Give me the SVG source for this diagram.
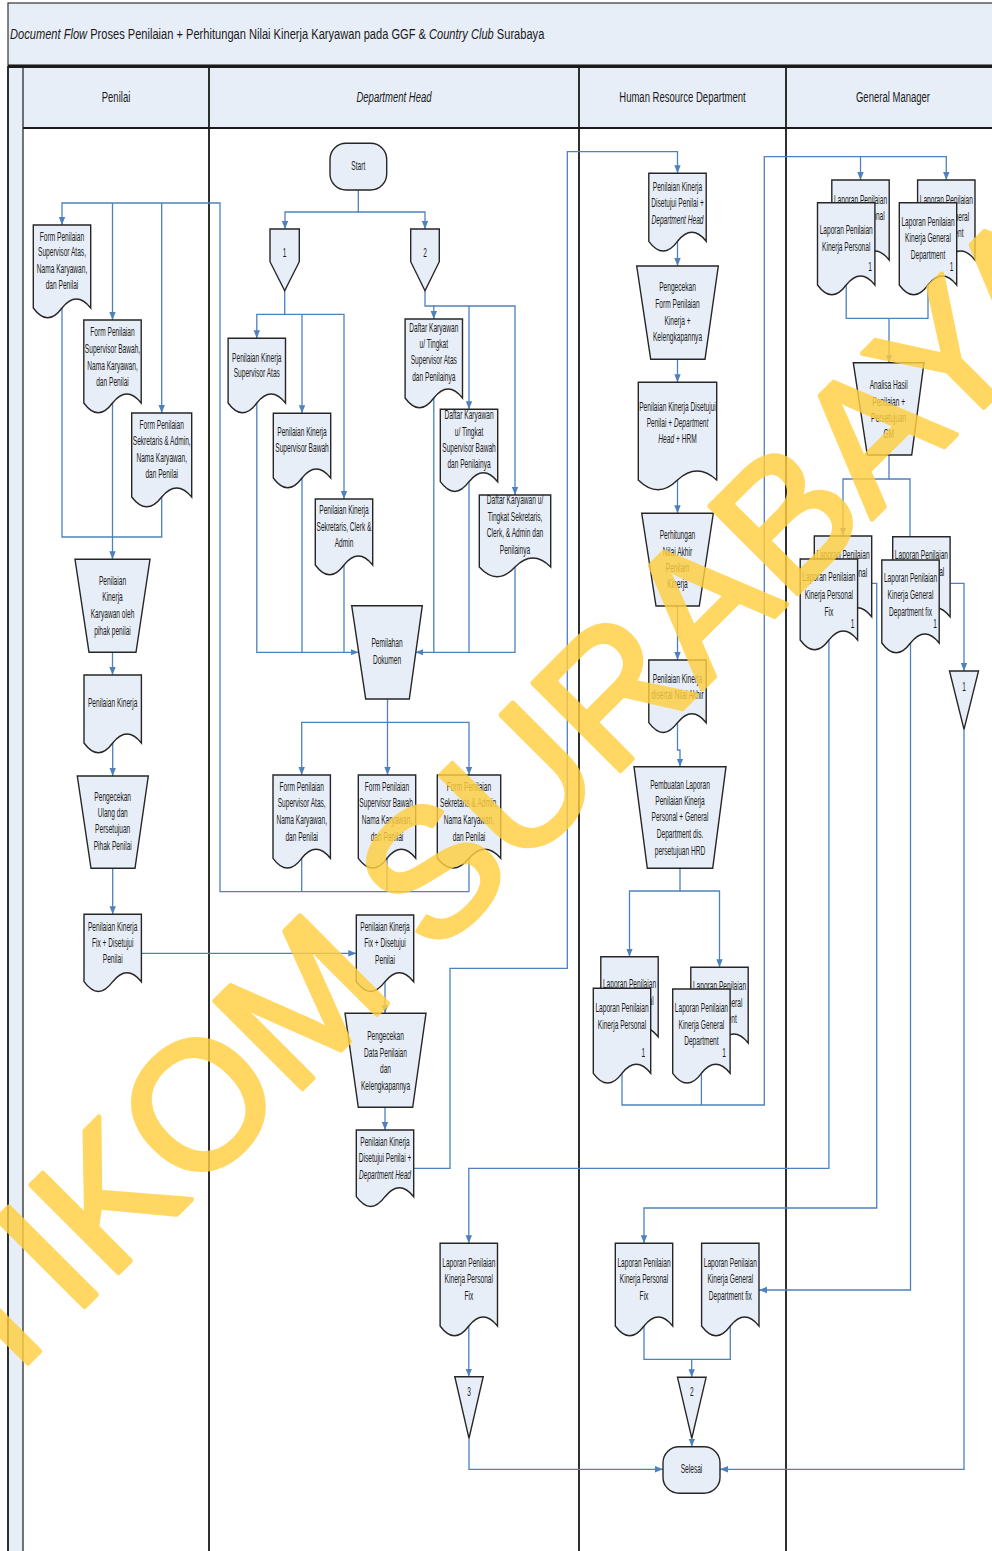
<svg xmlns="http://www.w3.org/2000/svg" width="992" height="1551" viewBox="0 0 992 1551">
<defs>
<style>
.n{fill:#E8EEF7;stroke:#262626;stroke-width:1.4}
.c{fill:none;stroke:#4F81BD;stroke-width:1.3}
.a{marker-end:url(#ar)}
.t{font-family:"Liberation Sans",Arial,sans-serif;font-size:12px;fill:#1a1a1a;text-anchor:middle}
.h{font-size:14px}
.i{font-style:italic}
.l{fill:none;stroke:#1a1a1a;stroke-width:1.8}
</style>
<marker id="ar" viewBox="0 0 10 10" refX="10" refY="5" markerWidth="8" markerHeight="8" markerUnits="userSpaceOnUse" orient="auto"><path d="M0,1L10,5L0,9z" fill="#4F81BD"/></marker>
</defs>
<rect x="0" y="0" width="992" height="1551" fill="#fff"/>
<g id="frame">
<rect x="8" y="3" width="990" height="62" fill="#E8EEF7" stroke="#333" stroke-width="1.2"/>
<text class="t" transform="translate(10,0) scale(.74,1)" x="0" y="39.5" style="text-anchor:start;font-size:15px"><tspan class="i">Document Flow</tspan> Proses Penilaian + Perhitungan Nilai Kinerja Karyawan pada GGF &amp; <tspan class="i">Country Club</tspan> Surabaya</text>
<rect x="8" y="66" width="15" height="1490" fill="#E8EEF7"/>
<rect x="23" y="67" width="975" height="61" fill="#E8EEF7"/>
<path class="l" d="M8,66V1551M209,66V1551M579,66V1551M786,66V1551M23,128H998"/>
<path d="M23,66V1551" stroke="#1a1a1a" stroke-width="1.2"/>
<path d="M8,66.5H998" stroke="#1a1a1a" stroke-width="3"/>
<text class="t h" transform="translate(116,0) scale(.68,1)" y="101.7">Penilai</text>
<text class="t h i" transform="translate(394,0) scale(.68,1)" y="101.7">Department Head</text>
<text class="t h" transform="translate(682.5,0) scale(.68,1)" y="101.7">Human Resource Department</text>
<text class="t h" transform="translate(893,0) scale(.68,1)" y="101.7">General Manager</text>
</g>
<g id="connectors">
<path class="c a" d="M469,891.7H220V203H62V225"/>
<path class="c a" d="M112.5,203V320"/>
<path class="c a" d="M161.7,203V413"/>
<path class="c" d="M62,308V537H161.7V497"/>
<path class="c a" d="M112.5,403V559.3"/>
<path class="c a" d="M112.5,652.3V675"/>
<path class="c a" d="M112.7,743V776"/>
<path class="c a" d="M112.7,868.3V914.3"/>
<path class="c a" d="M141.4,953.3H356.3"/>
<path class="c a" d="M358.3,190V212H285V229"/>
<path class="c a" d="M358.3,212H425V229"/>
<path class="c a" d="M284.7,290.7V314.3H256.8V338.3"/>
<path class="c a" d="M284.7,314.3H344V499"/>
<path class="c a" d="M302,314.3V413.3"/>
<path class="c a" d="M425,290.7V306H433.8V319"/>
<path class="c a" d="M433.8,306H515V495"/>
<path class="c a" d="M469,306V409.3"/>
<path class="c a" d="M256.8,403V652.3H358.5"/>
<path class="c" d="M302,478V652.3M344,565V652.3"/>
<path class="c a" d="M515,567V652.3H415.4"/>
<path class="c" d="M433.8,398V652.3M469,481.7V652.3"/>
<path class="c a" d="M387.5,699V722.3H301.7V775"/>
<path class="c a" d="M387.5,722.3V775"/>
<path class="c a" d="M387.5,722.3H469V775"/>
<path class="c" d="M301.7,858.3V891.7M387,858.3V891.7M469,858.3V891.7"/>
<path class="c a" d="M385,981.7V1013.3"/>
<path class="c a" d="M385,1107.3V1130"/>
<path class="c a" d="M413.7,1168.3H450V968.3H567.3V151.7H677.5V173.3"/>
<path class="c a" d="M468.8,1326V1376.7"/>
<path class="c a" d="M677.5,241.3V266"/>
<path class="c a" d="M677.5,359.3V382.3"/>
<path class="c a" d="M677.5,480V513.3"/>
<path class="c a" d="M677.5,606V660"/>
<path class="c a" d="M677.5,722.7V750H680V766.7"/>
<path class="c a" d="M680,868.3V891H629.5V956.7"/>
<path class="c a" d="M680,891H719.5V967.3"/>
<path class="c a" d="M622,1073.3V1105H764.3V156.7H860.5V180"/>
<path class="c" d="M701.4,1073.3V1105"/>
<path class="c a" d="M860.5,156.7H946.3V180"/>
<path class="c" d="M846.2,285V318.3H928V285"/>
<path class="c a" d="M889,318.3V362.7"/>
<path class="c a" d="M889,455V479H843V536"/>
<path class="c" d="M889,479H910V536.7"/>
<path class="c a" d="M871.7,583.3H876.7V1208H644V1243.3"/>
<path class="c a" d="M828.9,640V1168.3H468.8V1243.3"/>
<path class="c a" d="M910.5,643V1290H759"/>
<path class="c a" d="M950.1,583.3H964V671"/>
<path class="c a" d="M964,729.3V1469.3H720"/>
<path class="c a" d="M469,1438.3V1469.3H663"/>
<path class="c" d="M644,1326V1359.3H730.3V1326"/>
<path class="c a" d="M691.7,1359.3V1377.3"/>
<path class="c a" d="M691.8,1438.3V1446.7"/>
</g>
<g id="penilai-form-atas"><path class="n" d="M33.3,225h57.4v83c-9.6,-12 -19.1,-12 -28.7,0c-9.6,13 -19.1,13 -28.7,0z"/><text class="t" transform="translate(62,0) scale(.55,1)"><tspan x="0" y="240.7">Form Penilaian</tspan><tspan x="0" y="256">Supervisor Atas,</tspan><tspan x="0" y="273">Nama Karyawan,</tspan><tspan x="0" y="289">dan Penilai</tspan></text></g>
<g id="penilai-form-bawah"><path class="n" d="M83.8,320h57.4v83c-9.6,-12 -19.1,-12 -28.7,0c-9.6,13 -19.1,13 -28.7,0z"/><text class="t" transform="translate(112.5,0) scale(.55,1)"><tspan x="0" y="335.7">Form Penilaian</tspan><tspan x="0" y="353">Supervisor Bawah,</tspan><tspan x="0" y="369.7">Nama Karyawan,</tspan><tspan x="0" y="385.7">dan Penilai</tspan></text></g>
<g id="penilai-form-sekretaris"><path class="n" d="M131.7,413h60v84c-10,-12 -20,-12 -30,0c-10,13 -20,13 -30,0z"/><text class="t" transform="translate(161.7,0) scale(.55,1)"><tspan x="0" y="429">Form Penilaian</tspan><tspan x="0" y="445">Sekretaris &amp; Admin,</tspan><tspan x="0" y="461.7">Nama Karyawan,</tspan><tspan x="0" y="478.3">dan Penilai</tspan></text></g>
<g id="penilai-proses-penilaian"><polygon class="n" points="75,559.3 150,559.3 136,652.3 89,652.3"/><text class="t" transform="translate(112.5,0) scale(.55,1)"><tspan x="0" y="584.7">Penilaian</tspan><tspan x="0" y="601.5">Kinerja</tspan><tspan x="0" y="617.7">Karyawan oleh</tspan><tspan x="0" y="634.7">pihak penilai</tspan></text></g>
<g id="penilai-penilaian-kinerja"><path class="n" d="M84,675h57.4v68c-9.6,-12 -19.1,-12 -28.7,0c-9.6,13 -19.1,13 -28.7,0z"/><text class="t" transform="translate(112.7,0) scale(.55,1)"><tspan x="0" y="707">Penilaian Kinerja</tspan></text></g>
<g id="penilai-pengecekan-ulang"><polygon class="n" points="77.3,776 148.3,776 135,868.3 91,868.3"/><text class="t" transform="translate(112.7,0) scale(.55,1)"><tspan x="0" y="800.7">Pengecekan</tspan><tspan x="0" y="817.3">Ulang dan</tspan><tspan x="0" y="833.3">Persetujuan</tspan><tspan x="0" y="850">Pihak Penilai</tspan></text></g>
<g id="penilai-kinerja-fix"><path class="n" d="M84,914.3h57.4v67.4c-9.6,-12 -19.1,-12 -28.7,0c-9.6,13 -19.1,13 -28.7,0z"/><text class="t" transform="translate(112.7,0) scale(.55,1)"><tspan x="0" y="930.7">Penilaian Kinerja</tspan><tspan x="0" y="947.3">Fix + Disetujui</tspan><tspan x="0" y="963.3">Penilai</tspan></text></g>
<g id="dh-start"><rect class="n" x="330" y="143.3" width="56.7" height="46.7" rx="16"/><text class="t" transform="translate(358.3,0) scale(.55,1)" y="170">Start</text></g>
<g id="dh-offpage-1"><polygon class="n" points="270,229 299.3,229 299.3,261.7 284.7,290.7 270,261.7"/><text class="t" transform="translate(284.7,0) scale(.55,1)" y="257">1</text></g>
<g id="dh-offpage-2"><polygon class="n" points="410.7,229 439.3,229 439.3,261.7 425,290.7 410.7,261.7"/><text class="t" transform="translate(425,0) scale(.55,1)" y="257">2</text></g>
<g id="dh-pk-atas"><path class="n" d="M228.1,338.3h57.4v64.7c-9.6,-12 -19.1,-12 -28.7,0c-9.6,13 -19.1,13 -28.7,0z"/><text class="t" transform="translate(256.8,0) scale(.55,1)"><tspan x="0" y="362.3">Penilaian Kinerja</tspan><tspan x="0" y="377.3">Supervisor Atas</tspan></text></g>
<g id="dh-pk-bawah"><path class="n" d="M273.3,413.3h57.4v64.7c-9.6,-12 -19.1,-12 -28.7,0c-9.6,13 -19.1,13 -28.7,0z"/><text class="t" transform="translate(302,0) scale(.55,1)"><tspan x="0" y="436.3">Penilaian Kinerja</tspan><tspan x="0" y="452.3">Supervisor Bawah</tspan></text></g>
<g id="dh-pk-sekretaris"><path class="n" d="M315.3,499h57.4v66c-9.6,-12 -19.1,-12 -28.7,0c-9.6,13 -19.1,13 -28.7,0z"/><text class="t" transform="translate(344,0) scale(.55,1)"><tspan x="0" y="514">Penilaian Kinerja</tspan><tspan x="0" y="530.7">Sekretaris, Clerk &amp;</tspan><tspan x="0" y="546.7">Admin</tspan></text></g>
<g id="dh-daftar-atas"><path class="n" d="M405.1,319h57.4v79c-9.6,-12 -19.1,-12 -28.7,0c-9.6,13 -19.1,13 -28.7,0z"/><text class="t" transform="translate(433.8,0) scale(.55,1)"><tspan x="0" y="332.3">Daftar Karyawan</tspan><tspan x="0" y="348">u/ Tingkat</tspan><tspan x="0" y="364.3">Supervisor Atas</tspan><tspan x="0" y="381.3">dan Penilainya</tspan></text></g>
<g id="dh-daftar-bawah"><path class="n" d="M440.3,409.3h57.4v72.4c-9.6,-12 -19.1,-12 -28.7,0c-9.6,13 -19.1,13 -28.7,0z"/><text class="t" transform="translate(469,0) scale(.55,1)"><tspan x="0" y="419">Daftar Karyawan</tspan><tspan x="0" y="435.7">u/ Tingkat</tspan><tspan x="0" y="452.3">Supervisor Bawah</tspan><tspan x="0" y="468">dan Penilainya</tspan></text></g>
<g id="dh-daftar-sekretaris"><path class="n" d="M479.3,495h71.4v72c-11.9,-12 -23.8,-12 -35.7,0c-11.9,13 -23.8,13 -35.7,0z"/><text class="t" transform="translate(515,0) scale(.55,1)"><tspan x="0" y="504">Daftar Karyawan u/</tspan><tspan x="0" y="520.7">Tingkat Sekretaris,</tspan><tspan x="0" y="537.3">Clerk, &amp; Admin dan</tspan><tspan x="0" y="554">Penilainya</tspan></text></g>
<g id="dh-pemilahan"><polygon class="n" points="351.7,605.7 422.3,605.7 409.3,699 365.7,699"/><text class="t" transform="translate(387,0) scale(.55,1)"><tspan x="0" y="647.3">Pemilahan</tspan><tspan x="0" y="664">Dokumen</tspan></text></g>
<g id="dh-form-atas"><path class="n" d="M273,775h57.4v83.3c-9.6,-12 -19.1,-12 -28.7,0c-9.6,13 -19.1,13 -28.7,0z"/><text class="t" transform="translate(301.7,0) scale(.55,1)"><tspan x="0" y="790.7">Form Penilaian</tspan><tspan x="0" y="807">Supervisor Atas,</tspan><tspan x="0" y="824">Nama Karyawan,</tspan><tspan x="0" y="840.7">dan Penilai</tspan></text></g>
<g id="dh-form-bawah"><path class="n" d="M358.3,775h57.4v83.3c-9.6,-12 -19.1,-12 -28.7,0c-9.6,13 -19.1,13 -28.7,0z"/><text class="t" transform="translate(387,0) scale(.55,1)"><tspan x="0" y="790.7">Form Penilaian</tspan><tspan x="0" y="807">Supervisor Bawah,</tspan><tspan x="0" y="824">Nama Karyawan,</tspan><tspan x="0" y="840.7">dan Penilai</tspan></text></g>
<g id="dh-form-sekretaris"><path class="n" d="M437.3,775h63.4v83.3c-10.6,-12 -21.1,-12 -31.7,0c-10.6,13 -21.1,13 -31.7,0z"/><text class="t" transform="translate(469,0) scale(.55,1)"><tspan x="0" y="790.7">Form Penilaian</tspan><tspan x="0" y="807">Sekretaris &amp; Admin,</tspan><tspan x="0" y="824">Nama Karyawan,</tspan><tspan x="0" y="840.7">dan Penilai</tspan></text></g>
<g id="dh-kinerja-fix"><path class="n" d="M356.3,915h57.4v66.7c-9.6,-12 -19.1,-12 -28.7,0c-9.6,13 -19.1,13 -28.7,0z"/><text class="t" transform="translate(385,0) scale(.55,1)"><tspan x="0" y="930.7">Penilaian Kinerja</tspan><tspan x="0" y="946.7">Fix + Disetujui</tspan><tspan x="0" y="964">Penilai</tspan></text></g>
<g id="dh-pengecekan-data"><polygon class="n" points="345,1013.3 426,1013.3 412.7,1107.3 358.3,1107.3"/><text class="t" transform="translate(385.5,0) scale(.55,1)"><tspan x="0" y="1040">Pengecekan</tspan><tspan x="0" y="1056.7">Data Penilaian</tspan><tspan x="0" y="1073.3">dan</tspan><tspan x="0" y="1089.7">Kelengkapannya</tspan></text></g>
<g id="dh-disetujui"><path class="n" d="M356.3,1130h57.4v66.7c-9.6,-12 -19.1,-12 -28.7,0c-9.6,13 -19.1,13 -28.7,0z"/><text class="t" transform="translate(385,0) scale(.55,1)"><tspan x="0" y="1145.7">Penilaian Kinerja</tspan><tspan x="0" y="1162.3">Disetujui Penilai +</tspan><tspan x="0" y="1179" class="i">Department Head</tspan></text></g>
<g id="dh-laporan-personal-fix"><path class="n" d="M440.1,1243.3h57.4v82.7c-9.6,-12 -19.1,-12 -28.7,0c-9.6,13 -19.1,13 -28.7,0z"/><text class="t" transform="translate(468.8,0) scale(.55,1)"><tspan x="0" y="1266.7">Laporan Penilaian</tspan><tspan x="0" y="1283">Kinerja Personal</tspan><tspan x="0" y="1299.7">Fix</tspan></text></g>
<g id="dh-offpage-3"><polygon class="n" points="454.8,1376.7 483.2,1376.7 469,1438.3"/><text class="t" transform="translate(469,0) scale(.55,1)" y="1395.7">3</text></g>
<g id="hrd-disetujui"><path class="n" d="M648.8,173.3h57.4v68c-9.6,-12 -19.1,-12 -28.7,0c-9.6,13 -19.1,13 -28.7,0z"/><text class="t" transform="translate(677.5,0) scale(.55,1)"><tspan x="0" y="190.7">Penilaian Kinerja</tspan><tspan x="0" y="207.3">Disetujui Penilai +</tspan><tspan x="0" y="224" class="i">Department Head</tspan></text></g>
<g id="hrd-pengecekan"><polygon class="n" points="636.7,266 718.3,266 705,359.3 650.7,359.3"/><text class="t" transform="translate(677.5,0) scale(.55,1)"><tspan x="0" y="290.7">Pengecekan</tspan><tspan x="0" y="308">Form Penilaian</tspan><tspan x="0" y="325">Kinerja +</tspan><tspan x="0" y="341.3">Kelengkapannya</tspan></text></g>
<g id="hrd-disetujui-hrm"><path class="n" d="M638.3,382.3h78.4v97.7c-13.1,-12 -26.1,-12 -39.2,0c-13.1,13 -26.1,13 -39.2,0z"/><text class="t" transform="translate(677.5,0) scale(.55,1)"><tspan x="0" y="410.7">Penilaian Kinerja Disetujui</tspan><tspan x="0" y="427.3">Penilai + <tspan class="i">Department</tspan></tspan><tspan x="0" y="443.3"><tspan class="i">Head</tspan> + HRM</tspan></text></g>
<g id="hrd-perhitungan"><polygon class="n" points="641.7,513.3 713.3,513.3 699.3,606 656,606"/><text class="t" transform="translate(677.5,0) scale(.55,1)"><tspan x="0" y="539">Perhitungan</tspan><tspan x="0" y="555.7">Nilai Akhir</tspan><tspan x="0" y="572.3">Penilain</tspan><tspan x="0" y="588.3">Kinerja</tspan></text></g>
<g id="hrd-nilai-akhir"><path class="n" d="M648.8,660h57.4v62.7c-9.6,-12 -19.1,-12 -28.7,0c-9.6,13 -19.1,13 -28.7,0z"/><text class="t" transform="translate(677.5,0) scale(.55,1)"><tspan x="0" y="683">Penilaian Kinerja</tspan><tspan x="0" y="699">disertai Nilai Akhir</tspan></text></g>
<g id="hrd-pembuatan"><polygon class="n" points="634,766.7 726,766.7 712.7,868.3 647.3,868.3"/><text class="t" transform="translate(680,0) scale(.55,1)"><tspan x="0" y="789">Pembuatan Laporan</tspan><tspan x="0" y="805">Penilaian Kinerja</tspan><tspan x="0" y="821.3">Personal + General</tspan><tspan x="0" y="838">Department dis.</tspan><tspan x="0" y="855">persetujuan HRD</tspan></text></g>
<g id="hrd-laporan-personal"><path class="n" d="M600.8,956.7h57.4v80c-9.6,-12 -19.1,-12 -28.7,0c-9.6,13 -19.1,13 -28.7,0z"/><text class="t" transform="translate(629.5,0) scale(.55,1)"><tspan x="0" y="988">Laporan Penilaian</tspan><tspan x="0" y="1005">Kinerja Personal</tspan></text><path class="n" d="M593.3,988.3h57.4v85c-9.6,-12 -19.1,-12 -28.7,0c-9.6,13 -19.1,13 -28.7,0z"/><text class="t" transform="translate(622,0) scale(.55,1)"><tspan x="0" y="1012">Laporan Penilaian</tspan><tspan x="0" y="1029">Kinerja Personal</tspan></text><text class="t" transform="translate(643.3,0) scale(.55,1)" y="1057">1</text></g>
<g id="hrd-laporan-general"><path class="n" d="M690.8,967.3h57.4v75.7c-9.6,-12 -19.1,-12 -28.7,0c-9.6,13 -19.1,13 -28.7,0z"/><text class="t" transform="translate(719.5,0) scale(.55,1)"><tspan x="0" y="990">Laporan Penilaian</tspan><tspan x="0" y="1006.7">Kinerja General</tspan><tspan x="0" y="1023.3">Department</tspan></text><path class="n" d="M672.7,989h57.4v84.3c-9.6,-12 -19.1,-12 -28.7,0c-9.6,13 -19.1,13 -28.7,0z"/><text class="t" transform="translate(701.4,0) scale(.55,1)"><tspan x="0" y="1012">Laporan Penilaian</tspan><tspan x="0" y="1029">Kinerja General</tspan><tspan x="0" y="1045">Department</tspan></text><text class="t" transform="translate(724,0) scale(.55,1)" y="1057">1</text></g>
<g id="hrd-personal-fix"><path class="n" d="M615.3,1243.3h57.4v82.7c-9.6,-12 -19.1,-12 -28.7,0c-9.6,13 -19.1,13 -28.7,0z"/><text class="t" transform="translate(644,0) scale(.55,1)"><tspan x="0" y="1266.7">Laporan Penilaian</tspan><tspan x="0" y="1283">Kinerja Personal</tspan><tspan x="0" y="1299.7">Fix</tspan></text></g>
<g id="hrd-general-fix"><path class="n" d="M701.6,1243.3h57.4v82.7c-9.6,-12 -19.1,-12 -28.7,0c-9.6,13 -19.1,13 -28.7,0z"/><text class="t" transform="translate(730.3,0) scale(.55,1)"><tspan x="0" y="1266.7">Laporan Penilaian</tspan><tspan x="0" y="1283">Kinerja General</tspan><tspan x="0" y="1299.7">Department fix</tspan></text></g>
<g id="hrd-offpage-2"><polygon class="n" points="677.5,1377.3 706.1,1377.3 691.8,1438.3"/><text class="t" transform="translate(691.8,0) scale(.55,1)" y="1395.7">2</text></g>
<g id="hrd-selesai"><rect class="n" x="663" y="1446.7" width="57" height="46.6" rx="16"/><text class="t" transform="translate(691.5,0) scale(.55,1)" y="1473">Selesai</text></g>
<g id="gm-laporan-personal"><path class="n" d="M831.8,180h57.4v80c-9.6,-12 -19.1,-12 -28.7,0c-9.6,13 -19.1,13 -28.7,0z"/><text class="t" transform="translate(860.5,0) scale(.55,1)"><tspan x="0" y="204">Laporan Penilaian</tspan><tspan x="0" y="219.7">Kinerja Personal</tspan></text><path class="n" d="M817.5,202.7h57.4v82.3c-9.6,-12 -19.1,-12 -28.7,0c-9.6,13 -19.1,13 -28.7,0z"/><text class="t" transform="translate(846.2,0) scale(.55,1)"><tspan x="0" y="234">Laporan Penilaian</tspan><tspan x="0" y="251.3">Kinerja Personal</tspan></text><text class="t" transform="translate(870,0) scale(.55,1)" y="271.3">1</text></g>
<g id="gm-laporan-general"><path class="n" d="M917.6,180h57.4v80c-9.6,-12 -19.1,-12 -28.7,0c-9.6,13 -19.1,13 -28.7,0z"/><text class="t" transform="translate(946.3,0) scale(.55,1)"><tspan x="0" y="204">Laporan Penilaian</tspan><tspan x="0" y="220.7">Kinerja General</tspan><tspan x="0" y="237.3">Department</tspan></text><path class="n" d="M899.3,202.7h57.4v82.3c-9.6,-12 -19.1,-12 -28.7,0c-9.6,13 -19.1,13 -28.7,0z"/><text class="t" transform="translate(928,0) scale(.55,1)"><tspan x="0" y="225.7">Laporan Penilaian</tspan><tspan x="0" y="242.3">Kinerja General</tspan><tspan x="0" y="259">Department</tspan></text><text class="t" transform="translate(951.7,0) scale(.55,1)" y="271.3">1</text></g>
<g id="gm-analisa"><polygon class="n" points="853.3,362.7 924,362.7 911.7,455 867.3,455"/><text class="t" transform="translate(888.7,0) scale(.55,1)"><tspan x="0" y="389">Analisa Hasil</tspan><tspan x="0" y="406.3">Penilaian +</tspan><tspan x="0" y="422.3">Persetujuan</tspan><tspan x="0" y="438">GM</tspan></text></g>
<g id="gm-personal-fix"><path class="n" d="M814.3,536h57.4v80.7c-9.6,-12 -19.1,-12 -28.7,0c-9.6,13 -19.1,13 -28.7,0z"/><text class="t" transform="translate(843,0) scale(.55,1)"><tspan x="0" y="559">Laporan Penilaian</tspan><tspan x="0" y="576.7">Kinerja Personal</tspan></text><path class="n" d="M800.2,559h57.4v81c-9.6,-12 -19.1,-12 -28.7,0c-9.6,13 -19.1,13 -28.7,0z"/><text class="t" transform="translate(828.9,0) scale(.55,1)"><tspan x="0" y="581.3">Laporan Penilaian</tspan><tspan x="0" y="599">Kinerja Personal</tspan><tspan x="0" y="615.7">Fix</tspan></text><text class="t" transform="translate(852.7,0) scale(.55,1)" y="628">1</text></g>
<g id="gm-general-fix"><path class="n" d="M892.7,536.7h57.4v80c-9.6,-12 -19.1,-12 -28.7,0c-9.6,13 -19.1,13 -28.7,0z"/><text class="t" transform="translate(921.4,0) scale(.55,1)"><tspan x="0" y="559">Laporan Penilaian</tspan><tspan x="0" y="576">Kinerja General</tspan></text><path class="n" d="M881.8,560h57.4v83c-9.6,-12 -19.1,-12 -28.7,0c-9.6,13 -19.1,13 -28.7,0z"/><text class="t" transform="translate(910.5,0) scale(.55,1)"><tspan x="0" y="582.3">Laporan Penilaian</tspan><tspan x="0" y="599">Kinerja General</tspan><tspan x="0" y="615.7">Department fix</tspan></text><text class="t" transform="translate(935,0) scale(.55,1)" y="628">1</text></g>
<g id="gm-offpage-1"><polygon class="n" points="949.5,671 978.5,671 964,729.3"/><text class="t" transform="translate(964,0) scale(.55,1)" y="691">1</text></g>
<g id="watermark"><text x="0" y="0" transform="translate(-90,1481) rotate(-45)" style="font-family:'Liberation Sans',Arial,sans-serif;font-size:180px" fill="#FFCF40" stroke="#FFCF40" stroke-width="5" stroke-linejoin="round" opacity="0.82">STIKOM SURABAYA</text></g>
</svg>
